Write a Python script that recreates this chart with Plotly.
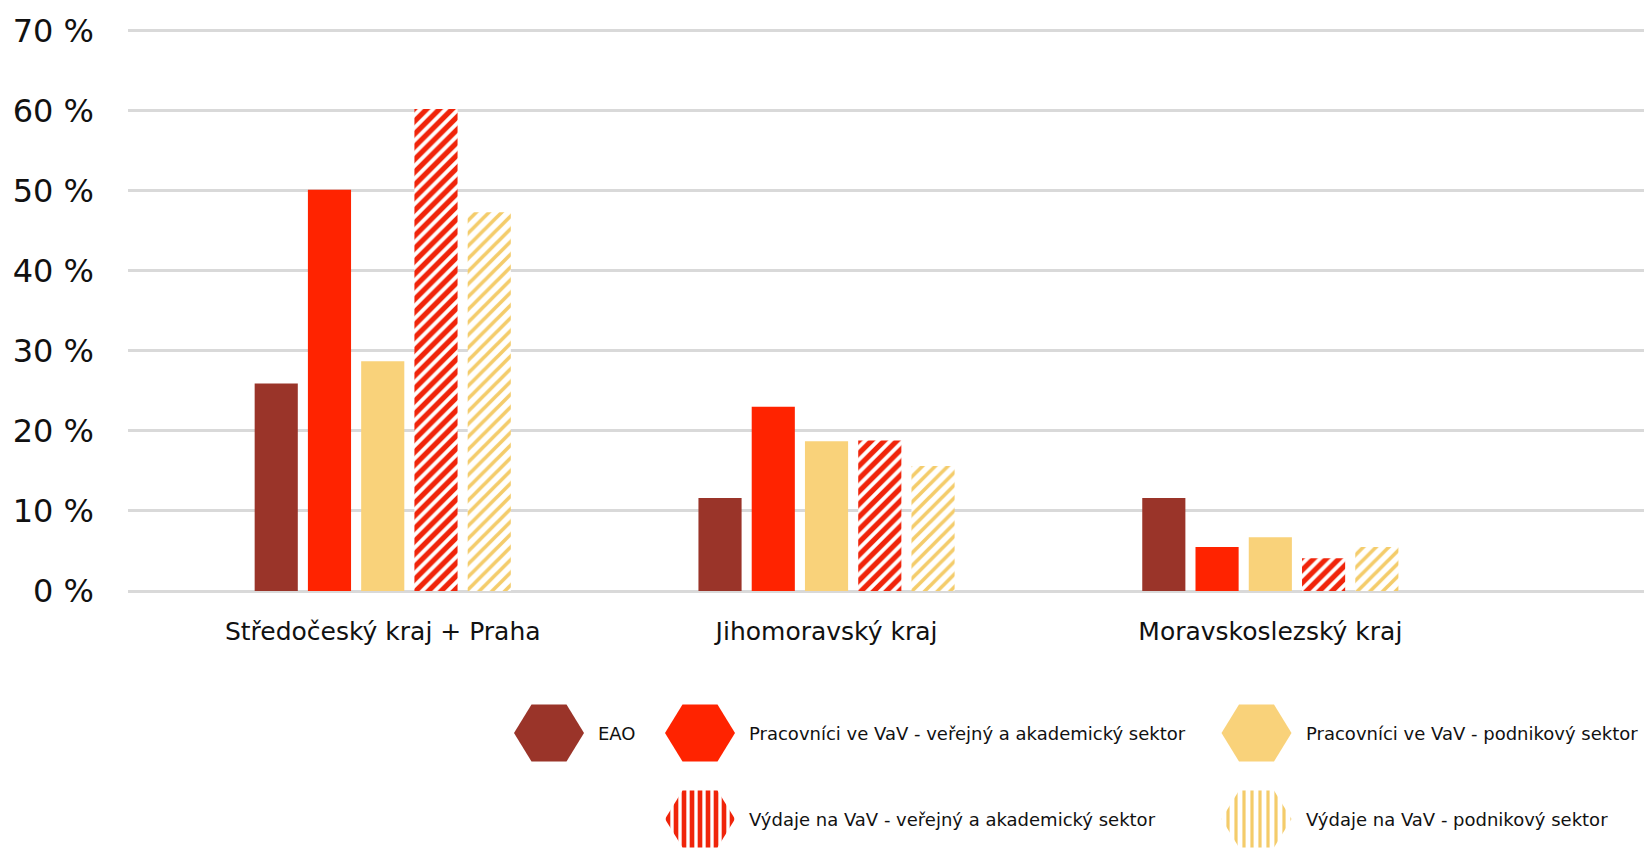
import plotly.graph_objects as go

# ---------------- data ----------------
categories = ["Středočeský kraj + Praha", "Jihomoravský kraj", "Moravskoslezský kraj"]
series_names = [
    "EAO",
    "Pracovníci ve VaV - veřejný a akademický sektor",
    "Pracovníci ve VaV - podnikový sektor",
    "Výdaje na VaV - veřejný a akademický sektor",
    "Výdaje na VaV - podnikový sektor",
]
eao = [25.9, 11.6, 11.6]
prac_verejny = [50.1, 23.0, 5.5]
prac_podnik = [28.7, 18.7, 6.7]
vydaje_verejny = [60.2, 18.8, 4.1]
vydaje_podnik = [47.3, 15.6, 5.5]
y_tick_vals = [0, 10, 20, 30, 40, 50, 60, 70]
y_tick_text = ["0 %", "10 %", "20 %", "30 %", "40 %", "50 %", "60 %", "70 %"]

series_values = [eao, prac_verejny, prac_podnik, vydaje_verejny, vydaje_podnik]

# ---------------- styles ----------------
FONT = "DejaVu Sans"
colors = ["#9a3429", "#ff2300", "#f9d27a", "#f0240a", "#f4cc6a"]
hatched = [False, False, False, True, True]
solidity = [0, 0, 0, 0.58, 0.4]

# legend grid placement (column, row) per series
leg_cols_px = [549, 700, 1256.5]
leg_rows_px = [733, 819]
leg_slots = [(0, 0), (1, 0), (2, 0), (1, 1), (2, 1)]

W, H = 1644, 850
M_L, M_R, M_T, M_B = 128, 0, 26, 0
paper_h = H - M_T - M_B
main_bottom_px = 596
y_dom0 = (H - main_bottom_px) / paper_h
px_per_unit = (591 - 30.4) / 70
y_range = [-(main_bottom_px - 591) / px_per_unit, 70 + (30.4 - M_T) / px_per_unit]
leg_dom1 = 0.25

fig = go.Figure()

for name, vals, col, hat, sol in zip(series_names, series_values, colors, hatched, solidity):
    if hat:
        marker = dict(color=col, opacity=1,
                      pattern=dict(shape="/", fgcolor=col, bgcolor="white", fgopacity=1,
                                    fillmode="replace", size=9, solidity=sol),
                      line=dict(width=0))
    else:
        marker = dict(color=col, line=dict(width=0))
    fig.add_trace(go.Bar(x=categories, y=vals, name=name, marker=marker,
                         showlegend=False, xaxis="x", yaxis="y"))


def hexagon(cx, cy, hw=35, hh=28.5):
    xs = [cx - hw, cx - hw / 2, cx + hw / 2, cx + hw, cx + hw / 2, cx - hw / 2, cx - hw]
    ys = [cy, cy - hh, cy - hh, cy, cy + hh, cy + hh, cy]
    return xs, ys


annotations = []
for name, col, hat, sol, (ci, ri) in zip(series_names, colors, hatched, solidity, leg_slots):
    cx, cy = leg_cols_px[ci], leg_rows_px[ri]
    hx, hy = hexagon(cx, cy)
    if hat:
        fp = dict(shape="|", fgcolor=col, bgcolor="white", fgopacity=1,
                  fillmode="replace", size=8, solidity=sol)
        fig.add_trace(go.Scatter(x=hx, y=hy, mode="lines", fill="toself", fillcolor=col,
                                 fillpattern=fp, line=dict(width=0), hoverinfo="skip",
                                 showlegend=False, xaxis="x2", yaxis="y2"))
    else:
        fig.add_trace(go.Scatter(x=hx, y=hy, mode="lines", fill="toself", fillcolor=col,
                                 line=dict(width=0), hoverinfo="skip",
                                 showlegend=False, xaxis="x2", yaxis="y2"))
    annotations.append(dict(x=cx + 47, y=cy, xref="x2", yref="y2", text=name,
                            xanchor="left", yanchor="middle", showarrow=False,
                            font=dict(family=FONT, size=18, color="#111111")))

fig.update_layout(
    width=W, height=H,
    margin=dict(l=M_L, r=M_R, t=M_T, b=M_B, pad=0, autoexpand=False),
    paper_bgcolor="white", plot_bgcolor="white",
    barmode="group", bargap=0.4, bargroupgap=0.19,
    font=dict(family=FONT, color="#111111"),
    showlegend=False,
    annotations=annotations,
    xaxis=dict(domain=[0, 1], type="category", range=[-0.574, 2.842], showgrid=False,
               showline=False, zeroline=False, ticks="", anchor="y", automargin=False,
               tickfont=dict(family=FONT, size=25, color="#111111"), ticklabelstandoff=18),
    yaxis=dict(domain=[y_dom0, 1], range=y_range, tickmode="array",
               tickvals=y_tick_vals, ticktext=y_tick_text, showgrid=True,
               gridcolor="#d9d9d9", gridwidth=2.5, zeroline=False, showline=False,
               ticks="", anchor="x", automargin=False,
               tickfont=dict(family=FONT, size=32, color="#111111"), ticklabelstandoff=33),
    xaxis2=dict(domain=[0, 1], range=[M_L, W], visible=False, anchor="y2",
                fixedrange=True, automargin=False),
    yaxis2=dict(domain=[0, leg_dom1], range=[H, H - leg_dom1 * paper_h], visible=False,
                anchor="x2", fixedrange=True, automargin=False),
)

# remove the browser's default page margin so the figure sits at the window origin
fig.write_html("out.html", config={"displayModeBar": False},
               post_script="document.body.style.margin='0';")
